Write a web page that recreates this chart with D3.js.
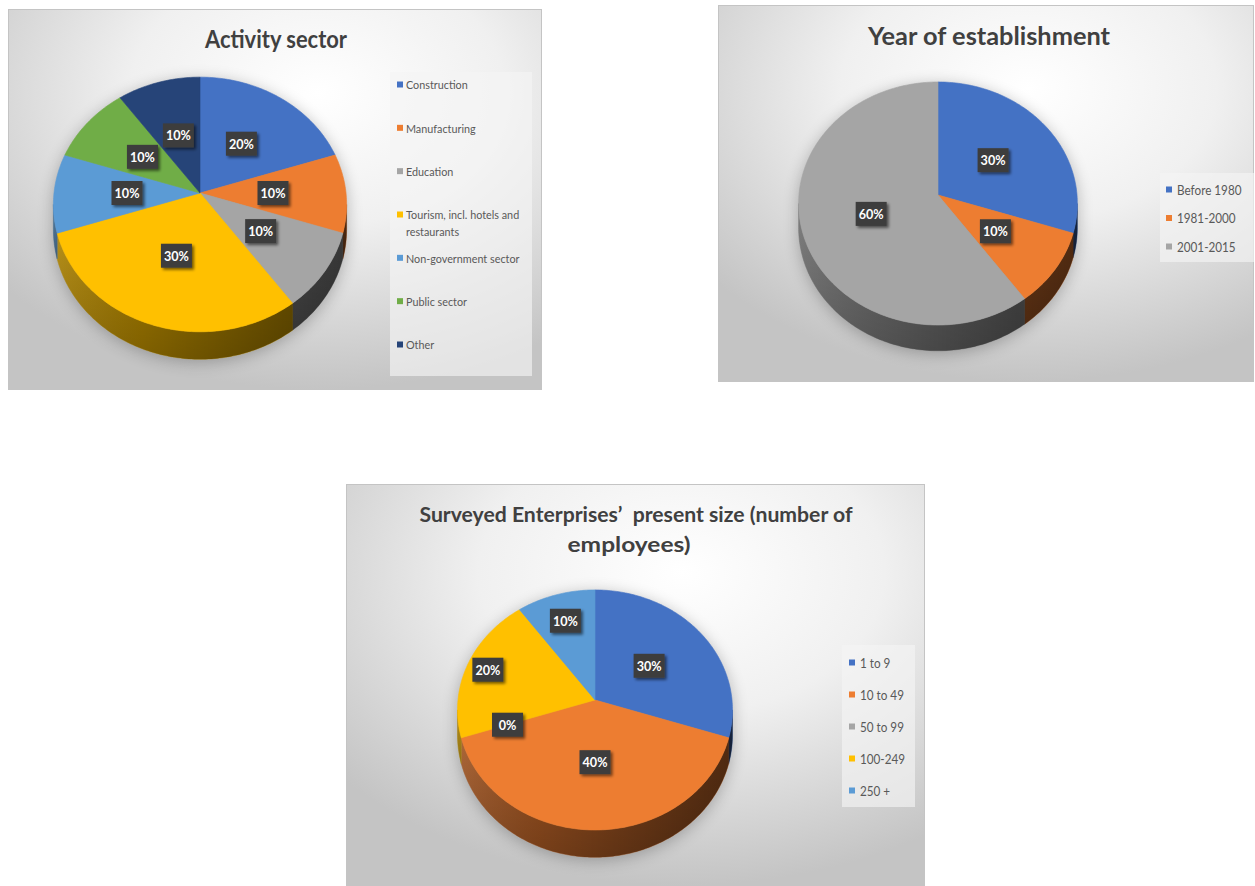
<!DOCTYPE html>
<html>
<head>
<meta charset="utf-8">
<script src="https://cdn.jsdelivr.net/npm/d3@7"></script>
<style>
  body { margin: 0; background: #ffffff; }
  svg { display: block; }
  text { white-space: pre; }
</style>
</head>
<body>
<svg id="chart" width="1255" height="886"></svg>
<script>
// ---- Data ----------------------------------------------------------------
const sectorTitle = ["Activity sector"];
const sectorCategories = ["Construction", "Manufacturing", "Education",
  "Tourism, incl. hotels and restaurants", "Non-government sector", "Public sector", "Other"];
const sectorValues = [20, 10, 10, 30, 10, 10, 10];

const yearTitle = ["Year of establishment"];
const yearCategories = ["Before 1980", "1981-2000", "2001-2015"];
const yearValues = [30, 10, 60];

const sizeTitle = ["Surveyed Enterprises\u2019  present size (number of", "employees)"];
const sizeCategories = ["1 to 9", "10 to 49", "50 to 99", "100-249", "250 +"];
const sizeValues = [30, 40, 0, 20, 10];

// Office palette
const officeColors = ["#4472C4", "#ED7D31", "#A5A5A5", "#FFC000", "#5B9BD5", "#70AD47", "#264478"];

// ---- Layout of each chart ------------------------------------------------
const charts = [
  {
    id: "sector", title: sectorTitle, categories: sectorCategories, values: sectorValues,
    colors: officeColors,
    panel: { x: 8, y: 9, w: 534, h: 381 },
    titleLines: [{ x: 276, y: 48, w: 142 }], titleSize: 24,
    pie: { cx: 200, cy: 193, R: 146, k: 0.865, p: 0.09, depth: 25 },
    labelRadius: [0.5, 0.5, 0.5, 0.5, 0.5, 0.5, 0.5],
    legend: { x: 390, y: 72, w: 142, h: 304, first: 85, last: 345, font: 12, mark: 397, text: 406, lineGap: 17 }
  },
  {
    id: "year", title: yearTitle, categories: yearCategories, values: yearValues,
    colors: ["#4472C4", "#ED7D31", "#A5A5A5"],
    panel: { x: 718, y: 5, w: 536, h: 377 },
    titleLines: [{ x: 989, y: 45, w: 242 }], titleSize: 24,
    pie: { cx: 938, cy: 195, R: 139, k: 0.87, p: 0.07, depth: 24 },
    labelRadius: [0.5, 0.5, 0.5],
    legend: { x: 1160, y: 173, w: 94, h: 89, first: 190, last: 247, font: 13, mark: 1166, text: 1177, lineGap: 15 }
  },
  {
    id: "size", title: sizeTitle, categories: sizeCategories, values: sizeValues,
    colors: ["#4472C4", "#ED7D31", "#A5A5A5", "#FFC000", "#5B9BD5"],
    panel: { x: 346, y: 484, w: 579, h: 402 },
    titleLines: [{ x: 636, y: 522, w: 433 }, { x: 629, y: 552, w: 123 }], titleSize: 21,
    pie: { cx: 595, cy: 700, R: 137, k: 0.87, p: 0.083, depth: 25 },
    labelRadius: [0.5, 0.5, 0.66, 0.84, 0.74],
    legend: { x: 842, y: 645, w: 73, h: 162, first: 663, last: 791, font: 13, mark: 849, text: 860, lineGap: 15 }
  }
];

const FONT = "Lato, 'Open Sans', sans-serif";
const CONDENSE = 0.9;   // narrows the fallback face towards a Calibri-like width

const svg = d3.select("#chart");
const defs = svg.append("defs");

// Label box shadow
const lblShadow = defs.append("filter").attr("id", "lblShadow")
  .attr("x", "-30%").attr("y", "-30%").attr("width", "170%").attr("height", "170%");
lblShadow.append("feGaussianBlur").attr("in", "SourceAlpha").attr("stdDeviation", 1.4).attr("result", "b");
lblShadow.append("feOffset").attr("in", "b").attr("dx", 2).attr("dy", 2).attr("result", "o");
lblShadow.append("feComponentTransfer").attr("in", "o").attr("result", "s")
  .append("feFuncA").attr("type", "linear").attr("slope", 0.55);
const lm = lblShadow.append("feMerge");
lm.append("feMergeNode").attr("in", "s");
lm.append("feMergeNode").attr("in", "SourceGraphic");

// Soft shadow under each pie
defs.append("filter").attr("id", "pieShadow")
  .attr("x", "-20%").attr("y", "-20%").attr("width", "140%").attr("height", "140%")
  .append("feGaussianBlur").attr("stdDeviation", 8);

// Vertical shading of the pie rim (darker toward the lower edge)
const rimV = defs.append("linearGradient").attr("id", "rimV")
  .attr("x1", 0).attr("x2", 0).attr("y1", 0).attr("y2", 1);
rimV.append("stop").attr("offset", "0%").attr("stop-color", "#000").attr("stop-opacity", 0.0);
rimV.append("stop").attr("offset", "100%").attr("stop-color", "#000").attr("stop-opacity", 0.22);

const line = d3.line();

// Perspective projection of a point on the pie disc.
// phi: clockwise angle from 12 o'clock, a: fraction of radius, h: drop below top face.
function project(cfg, phi, a, h) {
  const x3 = a * Math.sin(phi);
  const y3 = -a * Math.cos(phi);
  const f = 1 / (1 - cfg.p * y3);
  return [cfg.cx + cfg.R * x3 * f, cfg.cy + (cfg.R * cfg.k * y3 + h) * f];
}

function arcPoints(cfg, a0, a1, h) {
  const n = Math.max(2, Math.ceil(Math.abs(a1 - a0) / (Math.PI / 180)));
  return d3.range(n + 1).map(i => project(cfg, a0 + (a1 - a0) * i / n, 1, h));
}

function facePath(cfg, a0, a1) {
  return line([[cfg.cx, cfg.cy], ...arcPoints(cfg, a0, a1, 0)]) + "Z";
}

function sidePath(cfg, a0, a1) {
  const lo = Math.acos(-cfg.p), hi = 2 * Math.PI - lo;
  const s = Math.max(a0, lo), e = Math.min(a1, hi);
  if (e <= s) return null;
  return line([...arcPoints(cfg, s, e, 0), ...arcPoints(cfg, e, s, cfg.depth)]) + "Z";
}

// Fit text horizontally using the glyph-compressing textLength attribute
function condense(sel, factor) {
  sel.each(function () {
    const w = this.getComputedTextLength();
    d3.select(this).attr("textLength", w * factor).attr("lengthAdjust", "spacingAndGlyphs");
  });
}

charts.forEach(ch => {
  const g = svg.append("g").attr("class", ch.id);
  const P = ch.panel, cfg = ch.pie;

  // Panel background
  const bg = defs.append("radialGradient").attr("id", "bg-" + ch.id)
    .attr("cx", "58%").attr("cy", "22%").attr("r", "78%")
    .attr("fx", "58%").attr("fy", "22%");
  bg.append("stop").attr("offset", "0%").attr("stop-color", "#ffffff");
  bg.append("stop").attr("offset", "45%").attr("stop-color", "#f0f0f0");
  bg.append("stop").attr("offset", "100%").attr("stop-color", "#c4c4c4");
  g.append("rect").attr("x", P.x + 0.5).attr("y", P.y + 0.5).attr("width", P.w - 1).attr("height", P.h - 1)
    .attr("fill", `url(#bg-${ch.id})`).attr("stroke", "#c4c4c4").attr("stroke-width", 1);

  // Title
  ch.title.forEach((t, i) => {
    const L = ch.titleLines[i];
    g.append("text").attr("x", L.x).attr("y", L.y).attr("text-anchor", "middle")
      .attr("font-family", FONT).attr("font-weight", "bold").attr("font-size", ch.titleSize)
      .attr("fill", "#404040").attr("textLength", L.w).attr("lengthAdjust", "spacingAndGlyphs")
      .text(t);
  });

  const color = d3.scaleOrdinal().domain(ch.categories).range(ch.colors);
  const arcs = d3.pie().sort(null).startAngle(0).endAngle(2 * Math.PI)
    .value(d => d.value)(ch.categories.map((c, i) => ({ category: c, value: ch.values[i], index: i })));
  const total = d3.sum(ch.values);
  const pct = d3.format(".0%");

  // Soft shadow
  const lo = Math.acos(-cfg.p);
  const silhouette = line([...arcPoints(cfg, 0, 2 * Math.PI, 0)]) + "Z " +
    line([...arcPoints(cfg, lo, 2 * Math.PI - lo, 0), ...arcPoints(cfg, 2 * Math.PI - lo, lo, cfg.depth)]) + "Z";
  g.append("path").attr("d", silhouette).attr("fill", "#000").attr("opacity", 0.26)
    .attr("filter", "url(#pieShadow)").attr("transform", `translate(0,3)`);

  // Side walls
  const sideGrad = defs.append("linearGradient").attr("id", "side-" + ch.id)
    .attr("gradientUnits", "userSpaceOnUse")
    .attr("x1", cfg.cx - cfg.R).attr("x2", cfg.cx + cfg.R).attr("y1", 0).attr("y2", 0);
  sideGrad.append("stop").attr("offset", "0%").attr("stop-color", "#fff").attr("stop-opacity", 0.1);
  sideGrad.append("stop").attr("offset", "30%").attr("stop-color", "#000").attr("stop-opacity", 0.08);
  sideGrad.append("stop").attr("offset", "100%").attr("stop-color", "#000").attr("stop-opacity", 0.5);

  const sides = arcs.filter(d => d.endAngle > d.startAngle)
    .map(d => ({ d, path: sidePath(cfg, d.startAngle, d.endAngle) }))
    .filter(s => s.path);
  const rimColor = s => d3.color(color(s.d.data.category)).darker(1.05);
  g.selectAll("path.side").data(sides).join("path").attr("class", "side")
    .attr("d", s => s.path).attr("fill", rimColor)
    .attr("stroke", rimColor).attr("stroke-width", 0.5);
  g.selectAll("path.sideShade").data(sides).join("path").attr("class", "sideShade")
    .attr("d", s => s.path).attr("fill", `url(#side-${ch.id})`);
  g.selectAll("path.sideShadeV").data(sides).join("path").attr("class", "sideShadeV")
    .attr("d", s => s.path).attr("fill", "url(#rimV)");

  // Top faces
  g.selectAll("path.face").data(arcs.filter(d => d.endAngle > d.startAngle)).join("path").attr("class", "face")
    .attr("d", d => facePath(cfg, d.startAngle, d.endAngle))
    .attr("fill", d => color(d.data.category))
    .attr("stroke", d => color(d.data.category)).attr("stroke-width", 0.6);

  // Data labels
  const labels = g.selectAll("g.lbl").data(arcs).join("g").attr("class", "lbl")
    .attr("transform", d => {
      const mid = (d.startAngle + d.endAngle) / 2;
      const [x, y] = project(cfg, mid, ch.labelRadius[d.data.index], 0);
      return `translate(${x},${y})`;
    });
  labels.append("rect").attr("x", -15.5).attr("y", -12).attr("width", 31).attr("height", 24)
    .attr("fill", "#3d3d3d").attr("filter", "url(#lblShadow)");
  labels.append("text").attr("text-anchor", "middle").attr("dy", "0.36em")
    .attr("font-family", FONT).attr("font-weight", "bold").attr("font-size", 14)
    .attr("fill", "#ffffff").text(d => pct(d.data.value / total))
    .call(condense, 0.9);

  // Legend
  const Lg = ch.legend;
  g.append("rect").attr("x", Lg.x).attr("y", Lg.y).attr("width", Lg.w).attr("height", Lg.h)
    .attr("fill", "#f4f4f4").attr("opacity", 0.65);
  const ly = d3.scalePoint().domain(ch.categories).range([Lg.first, Lg.last]);
  const items = g.selectAll("g.leg").data(ch.categories).join("g").attr("class", "leg")
    .attr("transform", c => `translate(0,${ly(c)})`);
  items.append("rect").attr("x", Lg.mark).attr("y", -3.5).attr("width", 6).attr("height", 6)
    .attr("fill", c => color(c));
  items.each(function (c) {
    const item = d3.select(this);
    const maxW = Lg.x + Lg.w - Lg.text - 4;
    const words = c.split(" ");
    const lines = [];
    let cur = "";
    const probe = item.append("text").attr("font-family", FONT).attr("font-size", Lg.font);
    words.forEach(w => {
      const trial = cur ? cur + " " + w : w;
      probe.text(trial);
      if (cur && probe.node().getComputedTextLength() * CONDENSE > maxW) {
        lines.push(cur); cur = w;
      } else cur = trial;
    });
    lines.push(cur);
    probe.remove();
    lines.forEach((t, i) => {
      item.append("text").attr("x", Lg.text).attr("y", i * Lg.lineGap).attr("dy", "0.35em")
        .attr("font-family", FONT).attr("font-size", Lg.font).attr("fill", "#595959")
        .text(t).call(condense, CONDENSE);
    });
  });
});
</script>
</body>
</html>
